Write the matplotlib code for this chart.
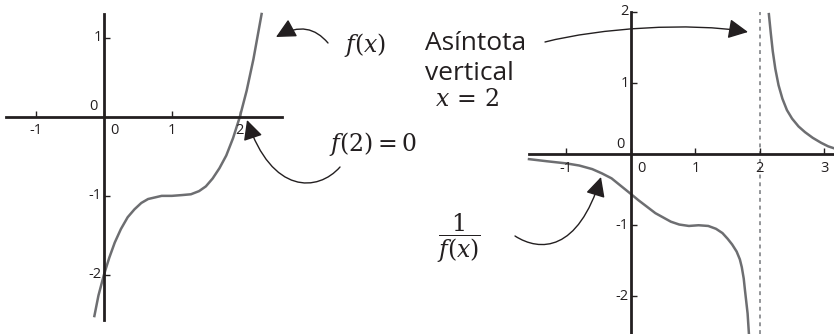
import matplotlib
matplotlib.use('Agg')
import matplotlib.pyplot as plt
from matplotlib.patches import FancyArrowPatch
from matplotlib.path import Path

plt.rcParams['font.family'] = ['Open Sans', 'DejaVu Sans']
plt.rcParams['mathtext.fontset'] = 'dejavuserif'

# f(x)
fx_x = [-0.14, -0.08, 0.0, 0.08, 0.16, 0.25, 0.35, 0.45, 0.55, 0.65, 0.75, 0.85,
        1.0, 1.15, 1.28, 1.40, 1.50, 1.60, 1.70, 1.80, 1.90, 2.00, 2.10, 2.20, 2.32]
fx_y = [-2.52, -2.26, -2.00, -1.78, -1.59, -1.42, -1.27, -1.17, -1.09, -1.04, -1.02, -1.00,
        -1.00, -0.99, -0.98, -0.94, -0.88, -0.78, -0.65, -0.49, -0.27, 0.00, 0.33, 0.73, 1.30]

# 1/f(x), left branch (x < 2)
gx = [-1.58, -1.3, -1.0, -0.8, -0.6, -0.45, -0.3, -0.15, 0.0, 0.12, 0.25, 0.38, 0.5,
      0.62, 0.75, 0.9, 1.05, 1.2, 1.32, 1.42, 1.5, 1.57, 1.64, 1.69, 1.72, 1.75,
      1.77, 1.79, 1.81, 1.83]
gy = [-0.07, -0.10, -0.13, -0.16, -0.21, -0.27, -0.34, -0.45, -0.56, -0.65, -0.74,
      -0.83, -0.89, -0.95, -0.99, -1.01, -1.00, -1.01, -1.05, -1.11, -1.19, -1.27,
      -1.37, -1.48, -1.59, -1.75, -1.92, -2.08, -2.24, -2.52]

# 1/f(x), right branch (x > 2)
hx = [2.14, 2.17, 2.20, 2.24, 2.29, 2.35, 2.42, 2.50, 2.60, 2.70, 2.82, 2.95, 3.06, 3.16]
hy = [1.97, 1.70, 1.45, 1.20, 0.97, 0.78, 0.62, 0.50, 0.39, 0.31, 0.23, 0.16, 0.11, 0.08]

asymptote = 2

left_xticks = [-1, 0, 1, 2]
left_yticks = [-2, -1, 1]
right_xticks = [-1, 0, 1, 2, 3]
right_yticks = [-2, -1, 1, 2]

W, H = 834, 334
INK = '#231f20'
CURVE = '#6d6e71'

fig = plt.figure(figsize=(W / 100, H / 100), dpi=100)


def box(x0, y0, x1, y1):
    # pixel box (top-left origin) -> figure fraction rect
    return [x0 / W, 1 - y1 / H, (x1 - x0) / W, (y1 - y0) / H]


def setup(ax, xlim, ylim, xticks, yticks):
    ax.set_xlim(*xlim)
    ax.set_ylim(*ylim)
    ax.patch.set_alpha(0)
    for s in ['top', 'right']:
        ax.spines[s].set_visible(False)
    for s in ['left', 'bottom']:
        ax.spines[s].set_position(('data', 0))
        ax.spines[s].set_linewidth(2.0)
        ax.spines[s].set_color(INK)
    ax.set_xticks(xticks)
    ax.set_yticks(yticks)
    ax.tick_params(direction='in', length=4, width=1, color=INK,
                   labelbottom=False, labelleft=False)
    lab = dict(textcoords='offset pixels', fontsize=10.5, color=INK,
               annotation_clip=False)
    for v in xticks:
        dx = 11 if v == 0 else 0
        ax.annotate(str(v), xy=(v, 0), xytext=(dx, -14), ha='center', va='center', **lab)
    for v in yticks:
        ax.annotate(str(v), xy=(0, v), xytext=(-2, 0), ha='right', va='center', **lab)
    ax.annotate('0', xy=(0, 0), xytext=(-10, 10), ha='center', va='center', **lab)


ax1 = fig.add_axes(box(6, 14, 282, 320))
setup(ax1, (-1.44, 2.62), (-2.57, 1.30), left_xticks, left_yticks)
ax1.plot(fx_x, fx_y, color=CURVE, lw=1.8, clip_on=False)

ax2 = fig.add_axes(box(529, 12, 834, 334))
setup(ax2, (-1.58, 3.15), (-2.53, 1.97), right_xticks, right_yticks)
ax2.axvline(asymptote, color='#939598', lw=1.4, ls=(0, (2, 2)), zorder=1)
ax2.plot(gx, gy, color=CURVE, lw=1.8, clip_on=False)
ax2.plot(hx, hy, color=CURVE, lw=1.8, clip_on=False)


def px(x, y):
    return (x / W, 1 - y / H)


def arrow(points):
    verts = [px(*p) for p in points]
    path = Path(verts, [Path.MOVETO, Path.CURVE4, Path.CURVE4, Path.CURVE4])
    a = FancyArrowPatch(path=path, transform=fig.transFigure,
                        arrowstyle='-|>,head_length=0.6,head_width=0.3',
                        mutation_scale=20, lw=1.0, color=INK)
    fig.patches.append(a)


arrow([(328, 43), (315, 28), (300, 24), (276, 37)])
arrow([(340, 167), (318, 192), (272, 195), (247, 120)])
arrow([(545, 42), (600, 28), (690, 22), (748, 32)])
arrow([(515, 236), (540, 252), (578, 252), (601, 177)])

tx = dict(transform=fig.transFigure, color=INK)
fig.text(*px(365, 45), '$f(x)$', fontsize=17, ha='center', va='center', **tx)
fig.text(*px(373, 144), '$f(2) = 0$', fontsize=17, ha='center', va='center', **tx)
fig.text(*px(425, 43), 'Asíntota', fontsize=19, ha='left', va='center', **tx)
fig.text(*px(425, 74), 'vertical', fontsize=19, ha='left', va='center', **tx)
fig.text(*px(467, 100), '$x\\,=\\,2$', fontsize=17, ha='center', va='center', **tx)
fig.text(*px(459, 238), '$\\dfrac{1}{f(x)}$', fontsize=17, ha='center', va='center', **tx)

fig.savefig('out.png', dpi=100)
